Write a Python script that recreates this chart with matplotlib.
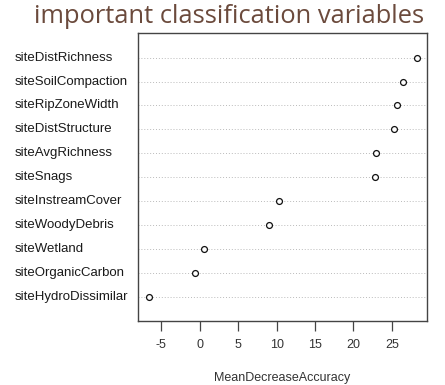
import matplotlib
matplotlib.use("Agg")
import matplotlib.pyplot as plt

# variable importance from the random forest classifier (top to bottom)
variables = ['siteDistRichness', 'siteSoilCompaction', 'siteRipZoneWidth',
             'siteDistStructure', 'siteAvgRichness', 'siteSnags',
             'siteInstreamCover', 'siteWoodyDebris', 'siteWetland',
             'siteOrganicCarbon', 'siteHydroDissimilar']
mean_decrease_acc = [28.25, 26.4, 25.65, 25.3, 22.95, 22.8,
                     10.25, 9.0, 0.6, -0.55, -6.6]
xticks = [-5, 0, 5, 10, 15, 20, 25]

fig = plt.figure(figsize=(4.45, 3.85), dpi=100)
ax = fig.add_axes([0.3094, 0.167, 0.6508, 0.7473])

n = len(variables)
ypos = list(range(n, 0, -1))

for y in ypos:
    ax.axhline(y, color='#bbbbbb', linestyle=(0, (1, 2)), linewidth=0.7, zorder=1)
ax.scatter(mean_decrease_acc, ypos, s=18, facecolors='white', edgecolors='#111111',
           linewidths=0.9, zorder=3)

ax.set_xlim(-8.07, 29.6)
ax.set_ylim(0, 12.03)
ax.set_xticks(xticks)
ax.set_xticklabels([str(t) for t in xticks], fontsize=9, family='Liberation Sans', color='#333333')
ax.tick_params(axis='x', length=7, width=0.9, color='#444444', pad=6)
ax.set_yticks([])

for sp in ax.spines.values():
    sp.set_color('#444444')
    sp.set_linewidth(1.0)

# row labels sit at a fixed left margin, left aligned, level with each row
fig.canvas.draw()
for y, name in zip(ypos, variables):
    py = ax.transData.transform((0, y))[1]
    fig.text(15 / 445, py / 385, name, fontsize=9.5, family='Liberation Sans',
             color='#1a1a1a', ha='left', va='center')

ax.set_xlabel('MeanDecreaseAccuracy', fontsize=9, family='Liberation Sans',
              color='#333333', labelpad=15)

fig.text(0.515, 0.958, 'important classification variables', fontsize=18.4,
         family='Open Sans', color='#6b4a3c', ha='center', va='center')

fig.savefig('out.png', dpi=100)
